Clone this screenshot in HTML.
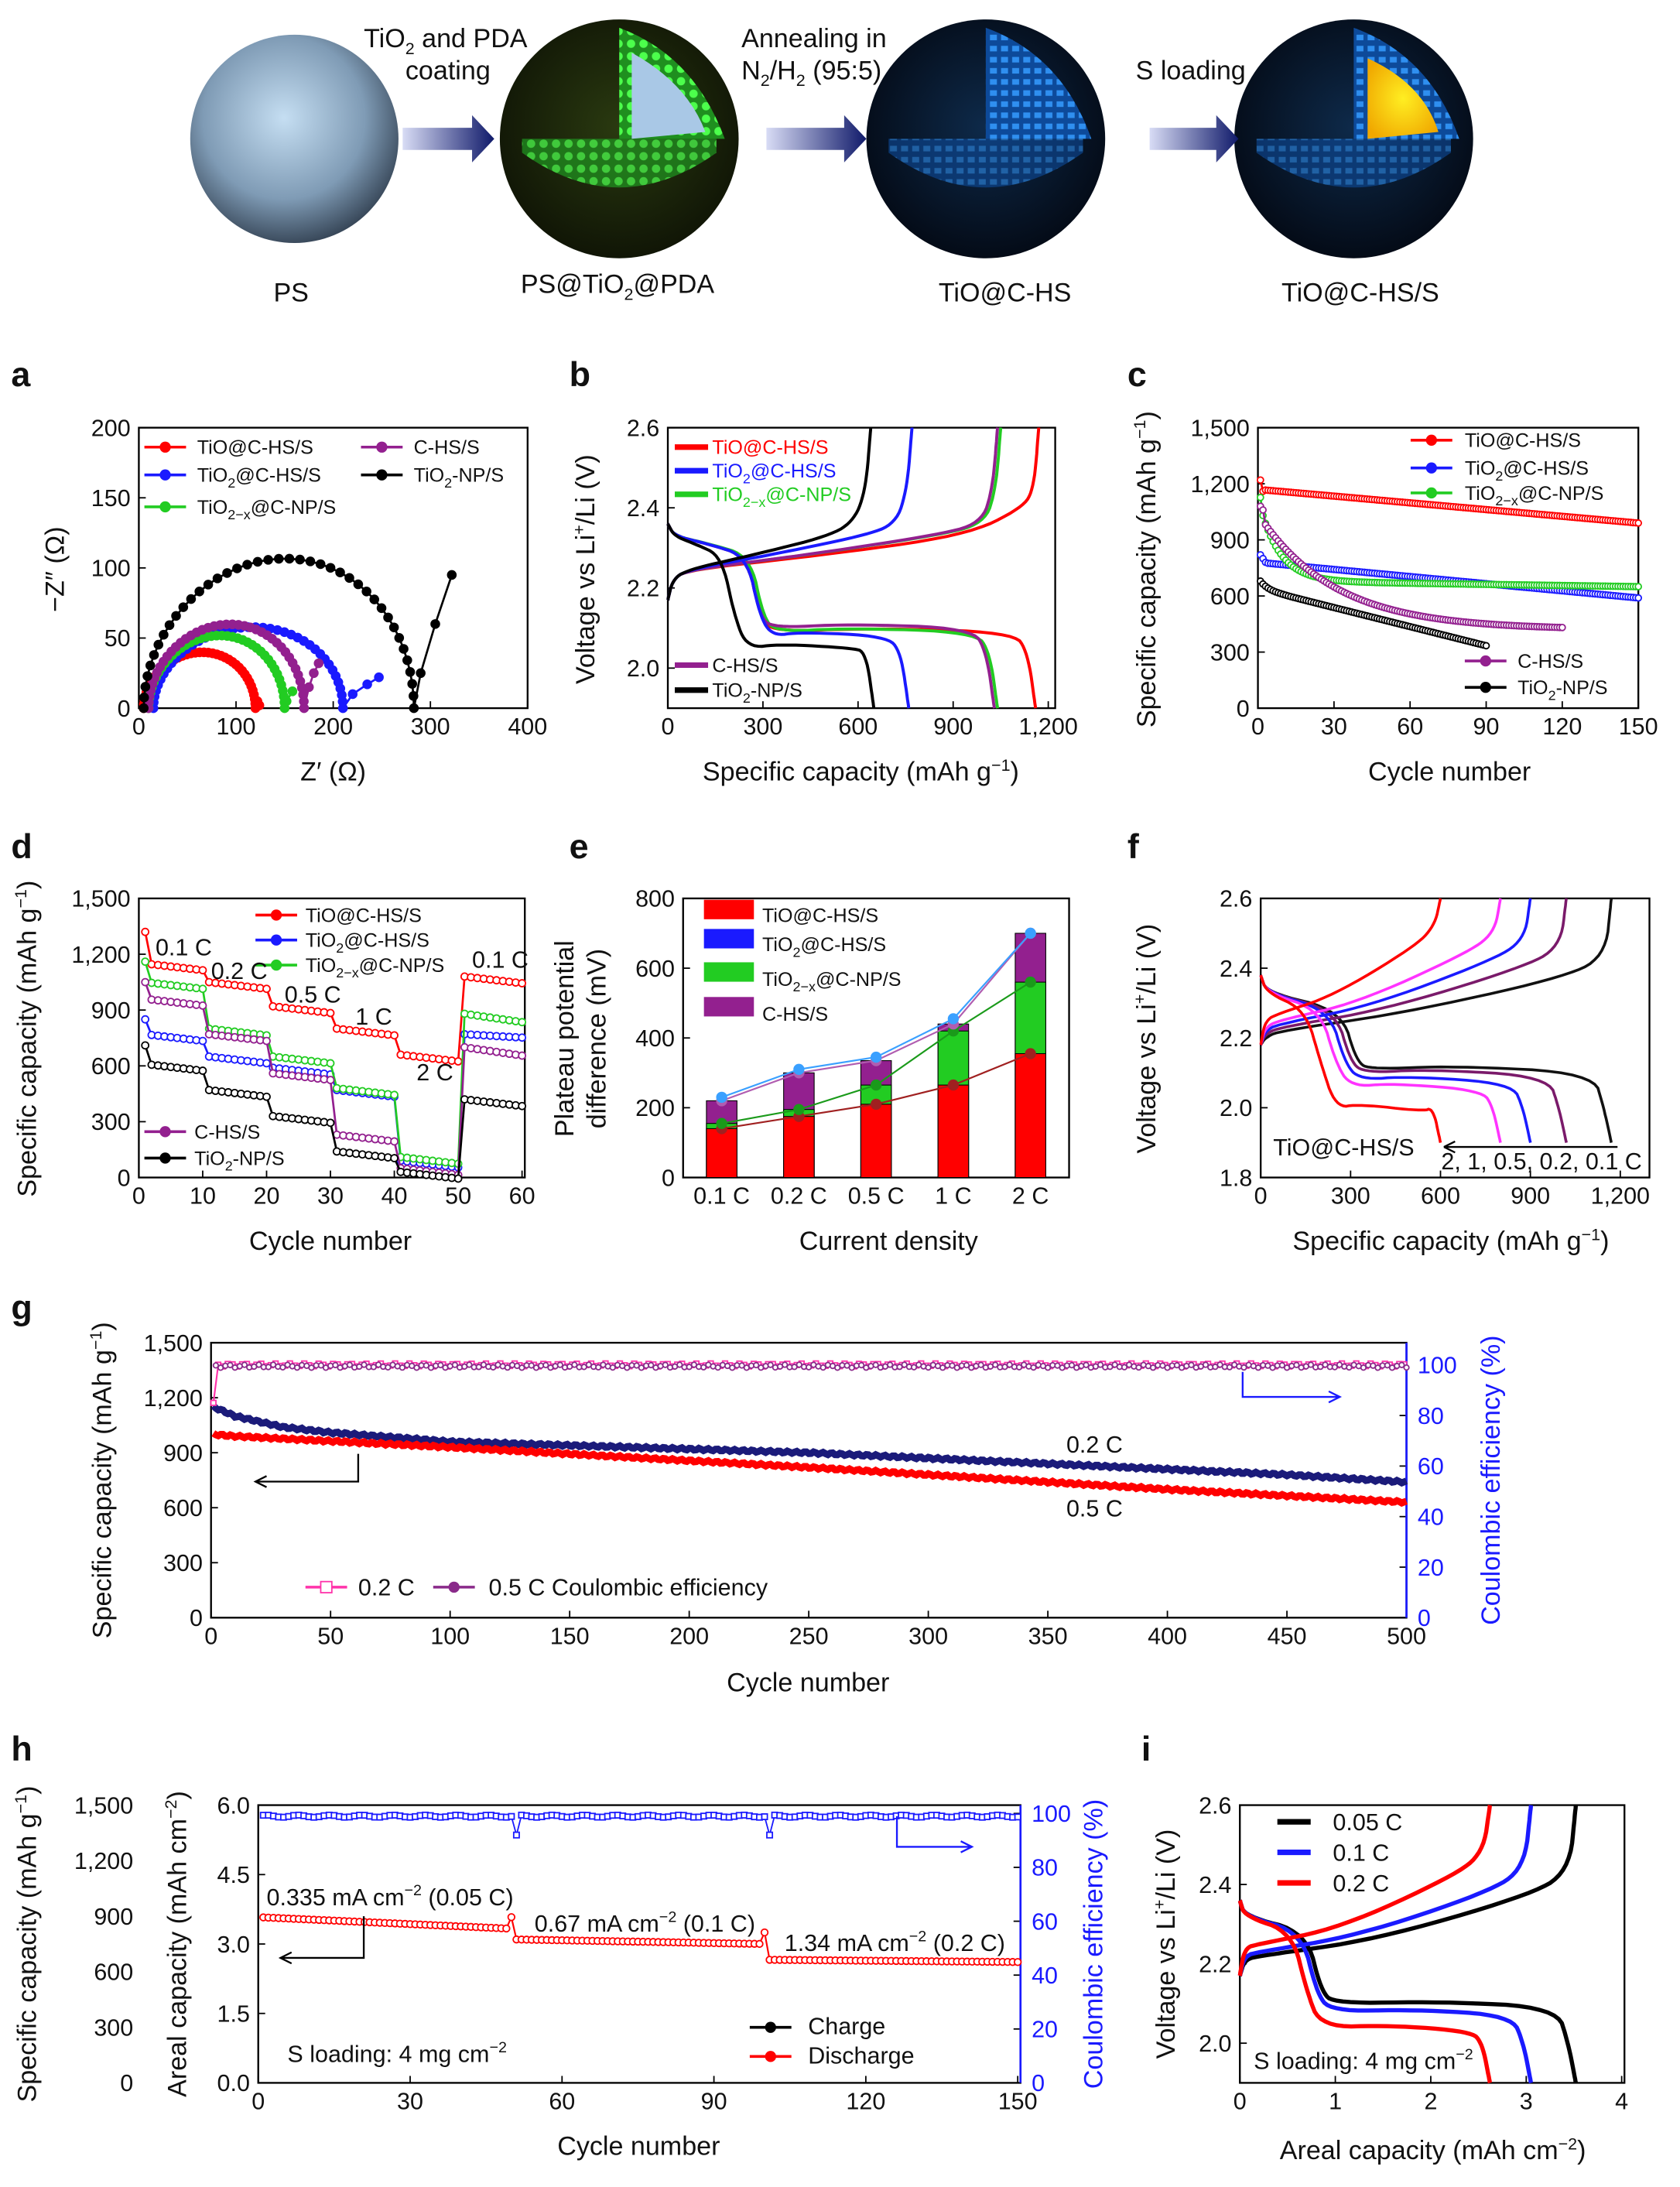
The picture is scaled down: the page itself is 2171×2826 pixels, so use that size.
<!DOCTYPE html>
<html><head><meta charset="utf-8"><style>
html,body{margin:0;padding:0;background:#fff}
svg{display:block}
text{font-family:"Liberation Sans",sans-serif;fill:#111}
.t{font-size:17px}
.l{font-size:19px}
.p{font-size:25px;font-weight:bold}
.g{font-size:14px}
</style></head><body>
<svg id="s" width="2171" height="2826" viewBox="0 0 1210 1575" preserveAspectRatio="none" xmlns="http://www.w3.org/2000/svg">
<defs>
<radialGradient id="ps" cx="0.45" cy="0.4" r="0.65"><stop offset="0" stop-color="#c5def2"/><stop offset="0.6" stop-color="#7f9bb5"/><stop offset="1" stop-color="#2b3848"/></radialGradient>
<radialGradient id="dk" cx="0.5" cy="0.45" r="0.6"><stop offset="0" stop-color="#0e2a4a"/><stop offset="1" stop-color="#030812"/></radialGradient>
<radialGradient id="gr" cx="0.5" cy="0.45" r="0.6"><stop offset="0" stop-color="#2a3a10"/><stop offset="1" stop-color="#0e1205"/></radialGradient>
<radialGradient id="ye" cx="0.5" cy="0.5" r="0.6"><stop offset="0" stop-color="#ffee22"/><stop offset="1" stop-color="#f0a800"/></radialGradient>
<pattern id="gd" width="9" height="9" patternUnits="userSpaceOnUse"><rect width="9" height="9" fill="#1f8f1f"/><circle cx="4.5" cy="4.5" r="3" fill="#4cff4c"/></pattern>
<pattern id="bd" width="8" height="8" patternUnits="userSpaceOnUse"><rect width="8" height="8" fill="#0d4a9a"/><rect x="1" y="1" width="5" height="4" fill="#2f8ff0"/></pattern>
<linearGradient id="ar" x1="0" x2="1"><stop offset="0" stop-color="#d8dcf5"/><stop offset="1" stop-color="#101a6a"/></linearGradient>
</defs>
<g id="root"></g>
<circle cx="212" cy="100" r="75" fill="url(#ps)"/>
<circle cx="446" cy="100" r="86" fill="url(#gr)"/>
<path d="M446 100 L446 20 Q500 40 522 100 Z" fill="url(#gd)"/>
<path d="M376 110 Q446 160 516 110 L516 100 L446 100 L376 100 Z" fill="url(#gd)" opacity="0.75"/>
<path d="M455 100 L455 38 Q495 60 508 95 Z" fill="#a9c8e6"/>
<circle cx="710" cy="100" r="86" fill="url(#dk)"/>
<path d="M710 100 L710 20 Q765 40 786 100 Z" fill="url(#bd)"/>
<path d="M640 110 Q710 160 780 110 L780 100 L640 100 Z" fill="url(#bd)" opacity="0.6"/>
<circle cx="975" cy="100" r="86" fill="url(#dk)"/>
<path d="M975 100 L975 20 Q1030 40 1051 100 Z" fill="url(#bd)"/>
<path d="M905 110 Q975 160 1045 110 L1045 100 L905 100 Z" fill="url(#bd)" opacity="0.6"/>
<path d="M985 100 L985 42 Q1025 60 1036 95 Z" fill="url(#ye)"/>
<g fill="url(#ar)"><path d="M290 92h50v-9l16 17-16 17v-9h-50z"/><path d="M552 92h56v-9l16 17-16 17v-9h-56z"/><path d="M828 92h48v-9l16 17-16 17v-9h-48z"/></g>
<text class="l" x="262" y="34">TiO<tspan font-size="12" dy="5">2</tspan><tspan dy="-5"> and PDA</tspan></text>
<text class="l" x="292" y="57">coating</text>
<text class="l" x="534" y="34">Annealing in</text>
<text class="l" x="534" y="57">N<tspan font-size="12" dy="5">2</tspan><tspan dy="-5">/H</tspan><tspan font-size="12" dy="5">2</tspan><tspan dy="-5"> (95:5)</tspan></text>
<text class="l" x="818" y="57">S loading</text>
<text class="l" x="197" y="217">PS</text>
<text class="l" x="375" y="211">PS@TiO<tspan font-size="12" dy="5">2</tspan><tspan dy="-5">@PDA</tspan></text>
<text class="l" x="676" y="217">TiO@C-HS</text>
<text class="l" x="923" y="217">TiO@C-HS/S</text>
<text class="p" x="8" y="278">a</text><text class="p" x="410" y="278">b</text><text class="p" x="812" y="278">c</text>
<text class="p" x="8" y="618">d</text><text class="p" x="410" y="618">e</text><text class="p" x="812" y="618">f</text>
<text class="p" x="8" y="950">g</text><text class="p" x="8" y="1268">h</text><text class="p" x="822" y="1268">i</text>
<text class="l" x="240" y="562" text-anchor="middle">Z′ (Ω)</text>
<text class="l" transform="translate(46 410) rotate(-90)" text-anchor="middle">−Z″ (Ω)</text>
<text class="l" x="620" y="562" text-anchor="middle">Specific capacity (mAh g<tspan font-size="12" dy="-7">−1</tspan><tspan dy="7">)</tspan></text>
<text class="l" transform="translate(428 410) rotate(-90)" text-anchor="middle">Voltage vs Li<tspan font-size="12" dy="-7">+</tspan><tspan dy="7">/Li (V)</tspan></text>
<text class="l" x="1044" y="562" text-anchor="middle">Cycle number</text>
<text class="l" transform="translate(832 410) rotate(-90)" text-anchor="middle">Specific capacity (mAh g<tspan font-size="12" dy="-7">−1</tspan><tspan dy="7">)</tspan></text>
<text class="l" x="238" y="900" text-anchor="middle">Cycle number</text>
<text class="l" transform="translate(26 748) rotate(-90)" text-anchor="middle">Specific capacity (mAh g<tspan font-size="12" dy="-7">−1</tspan><tspan dy="7">)</tspan></text>
<text class="l" x="640" y="900" text-anchor="middle">Current density</text>
<text class="l" transform="translate(413 748) rotate(-90)" text-anchor="middle">Plateau potential</text>
<text class="l" transform="translate(436 748) rotate(-90)" text-anchor="middle">difference (mV)</text>
<text class="l" x="1045" y="900" text-anchor="middle">Specific capacity (mAh g<tspan font-size="12" dy="-7">−1</tspan><tspan dy="7">)</tspan></text>
<text class="l" transform="translate(832 748) rotate(-90)" text-anchor="middle">Voltage vs Li<tspan font-size="12" dy="-7">+</tspan><tspan dy="7">/Li (V)</tspan></text>
<text class="l" x="582" y="1218" text-anchor="middle">Cycle number</text>
<text class="l" transform="translate(80 1066) rotate(-90)" text-anchor="middle">Specific capacity (mAh g<tspan font-size="12" dy="-7">−1</tspan><tspan dy="7">)</tspan></text>
<text class="l" transform="translate(1080 1066) rotate(-90)" text-anchor="middle" style="fill:#1a1aff">Coulombic efficiency (%)</text>
<text class="l" x="460" y="1552" text-anchor="middle">Cycle number</text>
<text class="l" transform="translate(26 1400) rotate(-90)" text-anchor="middle">Specific capacity (mAh g<tspan font-size="12" dy="-7">−1</tspan><tspan dy="7">)</tspan></text>
<text class="l" transform="translate(134 1400) rotate(-90)" text-anchor="middle">Areal capacity (mAh cm<tspan font-size="12" dy="-7">−2</tspan><tspan dy="7">)</tspan></text>
<text class="l" transform="translate(794 1400) rotate(-90)" text-anchor="middle" style="fill:#1a1aff">Coulombic efficiency (%)</text>
<text class="l" x="1032" y="1555" text-anchor="middle">Areal capacity (mAh cm<tspan font-size="12" dy="-7">−2</tspan><tspan dy="7">)</tspan></text>
<text class="l" transform="translate(846 1400) rotate(-90)" text-anchor="middle">Voltage vs Li<tspan font-size="12" dy="-7">+</tspan><tspan dy="7">/Li (V)</tspan></text>
<text class="t" x="112" y="688">0.1 C</text><text class="t" x="152" y="705">0.2 C</text><text class="t" x="205" y="722">0.5 C</text><text class="t" x="256" y="738">1 C</text><text class="t" x="300" y="778">2 C</text><text class="t" x="340" y="697">0.1 C</text>
<text class="t" x="917" y="832">TiO@C-HS/S</text><text class="t" x="1038" y="842">2, 1, 0.5, 0.2, 0.1 C</text>
<text class="t" x="768" y="1046">0.2 C</text><text class="t" x="768" y="1092">0.5 C</text>
<text class="t" x="258" y="1149">0.2 C</text><text class="t" x="352" y="1149">0.5 C  Coulombic efficiency</text>
<text class="t" x="192" y="1372">0.335 mA cm<tspan font-size="11" dy="-7">−2</tspan><tspan dy="7"> (0.05 C)</tspan></text>
<text class="t" x="385" y="1391">0.67 mA cm<tspan font-size="11" dy="-7">−2</tspan><tspan dy="7"> (0.1 C)</tspan></text>
<text class="t" x="565" y="1405">1.34 mA cm<tspan font-size="11" dy="-7">−2</tspan><tspan dy="7"> (0.2 C)</tspan></text>
<text class="t" x="207" y="1485">S loading: 4 mg cm<tspan font-size="11" dy="-7">−2</tspan></text>
<text class="t" x="582" y="1465">Charge</text><text class="t" x="582" y="1486">Discharge</text>
<text class="t" x="903" y="1490">S loading: 4 mg cm<tspan font-size="11" dy="-7">−2</tspan></text>
<text class="t" x="960" y="1318">0.05 C</text><text class="t" x="960" y="1340">0.1 C</text><text class="t" x="960" y="1362">0.2 C</text>
<g class="g">
<text x="142" y="327">TiO@C-HS/S</text><text x="298" y="327">C-HS/S</text>
<text x="142" y="347">TiO<tspan font-size="10" dy="4">2</tspan><tspan dy="-4">@C-HS/S</tspan></text><text x="298" y="347">TiO<tspan font-size="10" dy="4">2</tspan><tspan dy="-4">-NP/S</tspan></text>
<text x="142" y="370">TiO<tspan font-size="10" dy="4">2−x</tspan><tspan dy="-4">@C-NP/S</tspan></text>
<text x="513" y="327" style="fill:#f00">TiO@C-HS/S</text>
<text x="513" y="344" style="fill:#1a1aff">TiO<tspan font-size="10" dy="4">2</tspan><tspan dy="-4">@C-HS/S</tspan></text>
<text x="513" y="361" style="fill:#22cc22">TiO<tspan font-size="10" dy="4">2−x</tspan><tspan dy="-4">@C-NP/S</tspan></text>
<text x="513" y="484">C-HS/S</text><text x="513" y="502">TiO<tspan font-size="10" dy="4">2</tspan><tspan dy="-4">-NP/S</tspan></text>
<text x="1055" y="322">TiO@C-HS/S</text><text x="1055" y="342">TiO<tspan font-size="10" dy="4">2</tspan><tspan dy="-4">@C-HS/S</tspan></text><text x="1055" y="360">TiO<tspan font-size="10" dy="4">2−x</tspan><tspan dy="-4">@C-NP/S</tspan></text>
<text x="1093" y="481">C-HS/S</text><text x="1093" y="500">TiO<tspan font-size="10" dy="4">2</tspan><tspan dy="-4">-NP/S</tspan></text>
<text x="220" y="664">TiO@C-HS/S</text><text x="220" y="682">TiO<tspan font-size="10" dy="4">2</tspan><tspan dy="-4">@C-HS/S</tspan></text><text x="220" y="700">TiO<tspan font-size="10" dy="4">2−x</tspan><tspan dy="-4">@C-NP/S</tspan></text>
<text x="140" y="820">C-HS/S</text><text x="140" y="839">TiO<tspan font-size="10" dy="4">2</tspan><tspan dy="-4">-NP/S</tspan></text>
<text x="549" y="664">TiO@C-HS/S</text><text x="549" y="685">TiO<tspan font-size="10" dy="4">2</tspan><tspan dy="-4">@C-HS/S</tspan></text><text x="549" y="710">TiO<tspan font-size="10" dy="4">2−x</tspan><tspan dy="-4">@C-NP/S</tspan></text><text x="549" y="735">C-HS/S</text>
</g>
</svg>
<script>
var NS="http://www.w3.org/2000/svg",R=document.getElementById('root');
function el(t,a){var e=document.createElementNS(NS,t);for(var k in a)e.setAttribute(k,a[k]);R.appendChild(e);return e}
function A(x0,x1,px0,px1,y0,y1,py0,py1){return{X:function(v){return px0+(v-x0)/(x1-x0)*(px1-px0)},Y:function(v){return py0+(v-y0)/(y1-y0)*(py1-py0)}}}
function tx(x,y,s,anc,col){var e=el('text',{x:x,y:y,'class':'t','text-anchor':anc||'middle'});if(col)e.setAttribute('style','fill:'+col);e.textContent=s}
function box(x0,y0,x1,y1){el('rect',{x:x0,y:y0,width:x1-x0,height:y1-y0,fill:'none',stroke:'#000','stroke-width':1.3})}
var DEC=0;
function fmt(v){if(DEC)return v.toFixed(DEC);if(Math.abs(v)>=1000){var s=String(v);return s.slice(0,s.length-3)+','+s.slice(-3)}return String(v)}
function xt(a,vals,y,labs){vals.forEach(function(v,i){var x=a.X(v);el('line',{x1:x,x2:x,y1:y,y2:y-5,stroke:'#000'});tx(x,y+19,labs?labs[i]:fmt(v))})}
function yt(a,vals,x,side,col){vals.forEach(function(v){var y=a.Y(v);el('line',{x1:x,x2:x+(side?-5:5),y1:y,y2:y,stroke:'#000'});if(side)tx(x+8,y+6,fmt(v),'start',col);else tx(x-6,y+6,fmt(v),'end',col)})}
function path(a,pts,c,w){var d=pts.map(function(p,i){return(i?'L':'M')+a.X(p[0]).toFixed(1)+' '+a.Y(p[1]).toFixed(1)}).join('');el('path',{d:d,fill:'none',stroke:c,'stroke-width':w||2})}
function mk(a,pts,c,r,fill,sq){pts.forEach(function(p){var x=a.X(p[0]),y=a.Y(p[1]);if(sq)el('rect',{x:x-r,y:y-r,width:2*r,height:2*r,fill:fill||'#fff',stroke:c,'stroke-width':1});else el('circle',{cx:x,cy:y,r:r,fill:fill||c,stroke:c,'stroke-width':1})})}
function smooth(pts,it){for(var q=0;q<(it||2);q++){var o=[pts[0]];for(var i=0;i<pts.length-1;i++){var a=pts[i],b=pts[i+1];o.push([.75*a[0]+.25*b[0],.75*a[1]+.25*b[1]],[.25*a[0]+.75*b[0],.25*a[1]+.75*b[1]])}o.push(pts[pts.length-1]);pts=o}return pts}
function pw(k,x){for(var i=0;i<k.length-1;i++)if(x<=k[i+1][0])return k[i][1]+(k[i+1][1]-k[i][1])*(x-k[i][0])/(k[i+1][0]-k[i][0]);return k[k.length-1][1]}
function legm(x,y,c,sq){el('line',{x1:x,x2:x+30,y1:y,y2:y,stroke:c,'stroke-width':2});if(sq)el('rect',{x:x+11,y:y-4,width:8,height:8,fill:'#fff',stroke:c});else el('circle',{cx:x+15,cy:y,r:4,fill:c})}
function legl(x,y,c){el('line',{x1:x,x2:x+24,y1:y,y2:y,stroke:c,'stroke-width':4})}
var RED='#f00',BLU='#1a1aff',GRN='#22cc22',PUR='#93208f',BLK='#000';
// a
var a=A(0,400,100,380,0,200,510,308);box(100,308,380,510);xt(a,[0,100,200,300,400],510);yt(a,[0,50,100,150,200],100);
function semi(x0,x1,h,tail){var p=[];for(var i=0;i<=40;i++){var t=Math.PI*i/40;p.push([(x0+x1)/2-(x1-x0)/2*Math.cos(t),h*Math.sin(t)*(1+0.15*Math.sin(t*0.5))*0.9])}return p.concat(tail)}
[[5,120,40,[[122,5],[124,2]],RED],[15,210,58,[[220,10],[235,17],[247,22]],BLU],[10,150,52,[[152,5],[158,12]],GRN],[10,170,60,[[175,15],[180,25],[185,32]],PUR],[5,283,107,[[290,25],[305,60],[322,95]],BLK]].forEach(function(s){var p=semi(s[0],s[1],s[2],s[3]);path(a,p,s[4],1.5);mk(a,p,s[4],3)});
legm(104,322,RED);legm(104,342,BLU);legm(104,365,GRN);legm(260,322,PUR);legm(260,342,BLK);
// b
DEC=1;
var b=A(0,1200,481,755,1.9,2.6,510,308);box(481,308,760,510);yt(b,[2.0,2.2,2.4,2.6],481);DEC=0;xt(b,[0,300,600,900,1200],510);
function dis(C,k,pl){return smooth([[0,2.36],[20,2.33],[k*0.5,2.31],[k,2.28],[k+40,2.13],[k+80,pl],[C*0.55,pl+0.01],[C-70,pl],[C-25,2.04],[C,1.9]],3)}
function chg(C,top){return smooth([[0,2.17],[15,2.22],[60,2.245],[C*0.4,2.28],[C*0.8,2.33],[C-50,top],[C-15,2.45],[C,2.6]],3)}
[[1160,250,2.09,2.4,RED],[1040,260,2.09,2.36,GRN],[1030,250,2.1,2.36,PUR],[760,250,2.08,2.36,BLU],[650,170,2.05,2.37,BLK]].forEach(function(s){path(b,dis(s[0],s[1],s[2]),s[4],2.2);path(b,chg(s[0]+(s[4]==BLK?-10:10),s[3]),s[4],2.2)});
legl(486,322,RED);legl(486,339,BLU);legl(486,356,GRN);legl(486,479,PUR);legl(486,497,BLK);
// c
var c=A(0,150,906,1180,0,1500,510,308);box(906,308,1180,510);xt(c,[0,30,60,90,120,150],510);yt(c,[0,300,600,900,1200,1500],906);
function cyc(n,f){var p=[];for(var i=1;i<=n;i++)p.push([i,f(i)]);return p}
[[150,function(i){return i<3?1280-60*i:1170-1.2*i},RED],[150,function(i){return i<4?840-20*i:780-1.27*i},BLU],[150,function(i){return 680+450*Math.exp(-i/8)-0.2*i+(i<2?50:0)},GRN],[120,function(i){return 420+620*Math.exp(-i/30)+(i<3?60:0)},PUR],[90,function(i){return 640-3.4*i+60*Math.exp(-i/3)},BLK]].forEach(function(s){var p=cyc(s[0],s[1]);path(c,p,s[2],1.5);mk(c,p,s[2],2.2,'#fff')});
legm(1016,317,RED);legm(1016,337,BLU);legm(1016,355,GRN);legm(1055,476,PUR);legm(1055,495,BLK);
// d
var d=A(0,60,100,376,0,1500,848,647);box(100,647,378,848);xt(d,[0,10,20,30,40,50,60],848);yt(d,[0,300,600,900,1200,1500],100);
function rate(v,first,last){var p=[];for(var i=1;i<=60;i++){var s=Math.floor((i-1)/10);var y=v[s];if(i==1)y=first;if(s==5)y=v[5]-(i-51)*last;else if(i>1)y=y-(i-1-s*10)*4;p.push([i,y])}return p}
[[[1150,1050,920,800,660,1080],1320,4,RED],[[770,650,590,470,90,770],850,2,BLU],[[1050,800,650,480,110,880],1160,5,GRN],[[960,770,560,230,50,700],1050,5,PUR],[[610,470,330,140,30,420],710,4,BLK]].forEach(function(s){var p=rate(s[0],s[1],s[2]);path(d,p,s[3],1.5);mk(d,p,s[3],2.5,'#fff')});
legm(184,659,RED);legm(184,677,BLU);legm(184,695,GRN);legm(104,815,PUR);legm(104,834,BLK);
// e
var e=A(0,5,492,770,0,800,848,647);box(492,647,770,848);xt(e,[0.5,1.5,2.5,3.5,4.5],848,['0.1 C','0.2 C','0.5 C','1 C','2 C']);yt(e,[0,200,400,600,800],492);
var rv=[140,175,210,265,355],gv=[155,195,265,420,560],pv=[220,300,335,440,700],bv=[230,310,345,455,700];
for(var i=0;i<5;i++){var x=e.X(i+0.5)-11;[[pv[i],PUR],[gv[i],GRN],[rv[i],RED]].forEach(function(q){el('rect',{x:x,y:e.Y(q[0]),width:22,height:848-e.Y(q[0]),fill:q[1],stroke:'#000','stroke-width':0.6})})}
[[rv,'#a02020'],[gv,'#1a9a1a'],[pv,'#b05db0'],[bv,'#3aa0ff']].forEach(function(s){var p=s[0].map(function(v,i){return[i+0.5,v]});path(e,p,s[1],1.2);mk(e,p,s[1],3.5)});
[[RED,655],[BLU,676],[GRN,700],[PUR,725]].forEach(function(q){el('rect',{x:507,y:q[1]-7,width:36,height:14,fill:q[0]})});
// f
var f=A(0,1200,908,1167,1.8,2.6,848,647);box(908,647,1188,848);xt(f,[0,300,600,900,1200],848);DEC=1;yt(f,[1.8,2.0,2.2,2.4,2.6],908);DEC=0;
function dis2(C,k,pl){return smooth([[0,2.38],[20,2.33],[k,2.28],[k+50,2.13],[k+100,pl],[C*0.55,pl+0.01],[C-60,pl-0.01],[C-25,2.0],[C,1.9]],3)}
function chg2(C,st,top){return smooth([[0,2.18],[15,st],[60,st+0.02],[C*0.4,st+0.07],[C*0.85,top],[C-20,top+0.06],[C,2.6]],3)}
[[1170,270,2.11,2.2,2.37,'#111'],[1020,250,2.1,2.21,2.4,'#7a1a6a'],[900,230,2.08,2.22,2.42,BLU],[800,200,2.06,2.23,2.44,'#ff33ff'],[600,150,2.0,2.25,2.46,RED]].forEach(function(s){path(f,dis2(s[0],s[1],s[2]),s[5],2);path(f,chg2(s[0],s[3],s[4]),s[5],2)});
el('path',{d:'M1165 826 H1040 l8 -4 m-8 4 l8 4',stroke:'#000',fill:'none','stroke-width':1.3});
// g
var g=A(0,500,152,1013,0,1500,1165,967);box(152,967,1013,1165);xt(g,[0,50,100,150,200,250,300,350,400,450,500],1165);yt(g,[0,300,600,900,1200,1500],152);
var gr=A(0,500,152,1013,0,100,1165,983);yt(gr,[0,20,40,60,80,100],1013,1,BLU);
el('line',{x1:1013,x2:1013,y1:967,y2:1165,stroke:BLU,'stroke-width':1.5});
var k2=[[1,1150],[10,1100],[30,1040],[50,1010],[100,960],[250,900],[350,840],[450,780],[500,740]];
var k1=[[1,1000],[10,990],[100,930],[250,820],[400,700],[500,630]];
var p1=[],p2=[];for(var i=1;i<=500;i++){var j=Math.sin(i*1.7)*6;p1.push([i,pw(k1,i)+j]);p2.push([i,pw(k2,i)+j])}
path(g,p2,'#1b1b7a',5);path(g,p1,RED,5);
var cp=[],cp2=[];for(var i=1;i<=500;i+=2){cp.push([i,100+Math.sin(i)*0.6]);cp2.push([i+1,99.5+Math.cos(i)*0.6])}cp[0][1]=85;
path(gr,cp,'#ff33aa',1.2);path(gr,cp2,'#8a2a8a',1.2);mk(gr,cp,'#ff33aa',1.8,'#fff',1);mk(gr,cp2,'#8a2a8a',1.8,'#fff');
el('path',{d:'M258 1047 V1067 H184 m8 -4 l-8 4 l8 4',stroke:'#000',fill:'none','stroke-width':1.3});
el('path',{d:'M895 988 V1006 H965 m-8 -4 l8 4 l-8 4',stroke:BLU,fill:'none','stroke-width':1.3});
legm(220,1143,'#ff33aa',1);legm(312,1143,'#8a2a8a');
// h
var h=A(0,150,186,733,0,6,1500,1300);box(186,1300,735,1500);xt(h,[0,30,60,90,120,150],1500);DEC=1;yt(h,[0,1.5,3.0,4.5,6.0],186);DEC=0;
var hl=A(0,150,186,733,0,1500,1500,1300);[0,300,600,900,1200,1500].forEach(function(v){tx(96,hl.Y(v)+6,fmt(v),'end')});
var hr=A(0,150,186,733,0,100,1500,1306);yt(hr,[0,20,40,60,80,100],735,1,BLU);el('line',{x1:735,x2:735,y1:1300,y2:1500,stroke:BLU,'stroke-width':1.5});
var hp=[],hc=[];for(var i=1;i<=150;i++){var y=i<=50?3.58-0.005*i:i<=100?3.1-0.002*(i-50):2.66-0.001*(i-100);if(i==50||i==100)y+=0.25;hp.push([i,y]);hc.push([i,i==51||i==101?92:99+Math.sin(i)*0.4])}
path(h,hp,RED,1.2);mk(h,hp,RED,2.4,'#fff');path(hr,hc,BLU,1);mk(hr,hc,BLU,2,'#fff',1);
el('path',{d:'M262 1380 V1410 H202 m8 -4 l-8 4 l8 4',stroke:'#000',fill:'none','stroke-width':1.3});
el('path',{d:'M646 1308 V1330 H700 m-8 -4 l8 4 l-8 4',stroke:BLU,fill:'none','stroke-width':1.3});
legm(540,1460,BLK);legm(540,1481,RED);
// i
var ii=A(0,4,893,1168,1.9,2.6,1500,1300);box(893,1300,1170,1500);xt(ii,[0,1,2,3,4],1500);DEC=1;yt(ii,[2.0,2.2,2.4,2.6],893);DEC=0;
function dis3(C,k,pl){return smooth([[0,2.36],[0.05,2.32],[k,2.28],[k+0.15,2.13],[k+0.3,pl],[C*0.6,pl+0.005],[C-0.2,pl-0.01],[C-0.08,2.0],[C,1.9]],3)}
function chg3(C,st,top){return smooth([[0,2.17],[0.05,st],[0.2,st+0.01],[C*0.4,st+0.05],[C*0.85,top],[C-0.07,top+0.06],[C,2.6]],3)}
[[3.52,0.7,2.1,2.21,2.37,BLK],[3.05,0.65,2.08,2.22,2.38,BLU],[2.62,0.55,2.04,2.24,2.42,RED]].forEach(function(s){path(ii,dis3(s[0],s[1],s[2]),s[5],3);path(ii,chg3(s[0],s[3],s[4]),s[5],3)});
legl(920,1312,BLK);legl(920,1334,BLU);legl(920,1356,RED);
</script>
</body></html>
